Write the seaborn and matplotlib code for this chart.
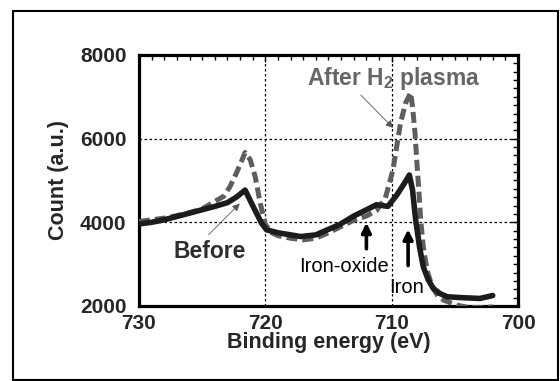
import matplotlib
matplotlib.use("Agg")
import matplotlib.pyplot as plt
from matplotlib.patches import Rectangle
from matplotlib.ticker import MultipleLocator
import pandas as pd
import seaborn as sns

# Fe 2p XPS spectra
before_energy = [730, 729, 728, 727, 726, 725, 724, 723, 722.3, 721.6, 721.0,
                 720.3, 719.9, 719, 718, 717.2, 716, 715.4, 714.1, 713, 712,
                 711.2, 710.3, 709.6, 709.0, 708.6, 708.35, 708.1, 707.8, 707.5,
                 707.1, 706.7, 706.2, 705.6, 704.5, 703, 702]
before_count = [3960, 4000, 4060, 4140, 4220, 4300, 4380, 4470, 4600, 4770, 4400,
                3980, 3820, 3750, 3700, 3660, 3700, 3780, 3950, 4150, 4300,
                4420, 4380, 4650, 4930, 5130, 4780, 4060, 3420, 2940,
                2620, 2420, 2300, 2220, 2200, 2180, 2250]

after_energy = [730, 729, 728, 727, 726, 725, 724, 723.3, 722.8, 722.3, 721.9,
                721.6, 721.2, 720.8, 720.4, 720.0, 719.5, 719, 718, 717, 716,
                715, 714, 713, 712, 711.2, 710.5, 709.9, 709.6, 709.3, 708.9,
                708.5, 708.35, 708.15, 708.0, 707.85, 707.7, 707.5, 707.2, 706.8,
                706.3, 705.9, 704.85, 704, 703, 702]
after_count = [4020, 4060, 4100, 4160, 4230, 4320, 4500, 4620, 4850, 5170, 5450,
               5670, 5500, 5090, 4450, 3950, 3750, 3680, 3620, 3580, 3620,
               3750, 3900, 4050, 4150, 4280, 4580, 5250, 5810, 6370, 6850,
               7100, 6770, 6130, 5415, 4775, 4057, 3420, 2860, 2460,
               2220, 2140, 2020, 1970, 1960, 1980]

before_df = pd.DataFrame({"energy": before_energy, "count": before_count})
after_df = pd.DataFrame({"energy": after_energy, "count": after_count})

sns.set_style("white")
plt.rcParams["font.family"] = ["Liberation Sans", "DejaVu Sans"]
plt.rcParams["mathtext.fontset"] = "custom"
plt.rcParams["mathtext.bf"] = "Liberation Sans:bold"
plt.rcParams["mathtext.rm"] = "Liberation Sans:bold"
plt.rcParams["mathtext.default"] = "bf"

fig = plt.figure(figsize=(5.6, 3.81), dpi=100)
ax = fig.add_axes([0.2482, 0.1969, 0.6768, 0.6588])

sns.lineplot(data=after_df, x="energy", y="count", ax=ax, color="#5e5e5e",
             lw=3.6, linestyle=(0, (2.2, 1.0)), sort=False, zorder=3)
sns.lineplot(data=before_df, x="energy", y="count", ax=ax, color="#1c1c1c",
             lw=4.0, sort=False, zorder=4)

ax.set_xlim(730, 700)
ax.set_ylim(2000, 8000)
ax.xaxis.set_major_locator(MultipleLocator(10))
ax.xaxis.set_minor_locator(MultipleLocator(1))
ax.yaxis.set_major_locator(MultipleLocator(2000))
ax.yaxis.set_minor_locator(MultipleLocator(200))
ax.grid(True, which="major", color="black", lw=0.9, ls=(0, (2, 2)))
ax.set_axisbelow(True)
ax.tick_params(which="both", direction="in", top=True, right=True, width=1,
               color="black")
ax.tick_params(which="major", length=5, labelsize=15, pad=6)
ax.tick_params(which="minor", length=3.5)
ax.tick_params(axis="y", pad=9)
for lab in ax.get_xticklabels() + ax.get_yticklabels():
    lab.set_fontweight("bold")
for sp in ax.spines.values():
    sp.set_linewidth(2.3)
    sp.set_color("black")

ax.set_xlabel("Binding energy (eV)", fontsize=15.5, fontweight="bold", labelpad=-1)
ax.set_ylabel("Count (a.u.)", fontsize=15.5, fontweight="bold", labelpad=8)

ax.text(716.7, 7290, r"After H$_2$ plasma", fontsize=16.5, fontweight="bold",
        color="#666666", ha="left", va="baseline")
ax.text(727.3, 3140, "Before", fontsize=16.5, fontweight="bold",
        color="#2e2e2e", ha="left", va="baseline")
ax.text(717.3, 2820, "Iron-oxide", fontsize=14.5, color="black",
        ha="left", va="baseline")
ax.text(710.2, 2300, "Iron", fontsize=14.5, color="black",
        ha="left", va="baseline")

thin = dict(arrowstyle="-|>", color="#555555", lw=0.6, mutation_scale=11)
ax.annotate("", xy=(709.73, 6210), xytext=(712.6, 7090), arrowprops=thin)
ax.annotate("", xy=(721.87, 4495), xytext=(724.64, 3658), arrowprops=thin)
thick = dict(arrowstyle="-|>", color="black", lw=2.6, mutation_scale=14)
ax.annotate("", xy=(712.0, 4057), xytext=(712.0, 3300), arrowprops=thick)
ax.annotate("", xy=(708.7, 3897), xytext=(708.7, 2900), arrowprops=thick)

fig.patches.append(Rectangle((13 / 560, 1 / 381), 545 / 560, 369 / 381,
                             transform=fig.transFigure, fill=False,
                             edgecolor="black", lw=1.5))

fig.savefig("out.png", dpi=100)
